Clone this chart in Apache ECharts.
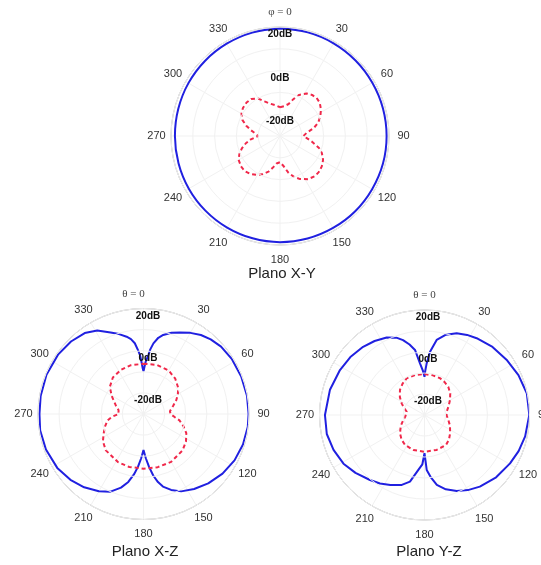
<!DOCTYPE html>
<html>
<head>
<meta charset="utf-8">
<script src="https://cdn.jsdelivr.net/npm/echarts@6/dist/echarts.min.js"></script>
<style>
  html, body { margin: 0; padding: 0; background: #fff; }
  #chart { width: 541px; height: 565px; }
</style>
</head>
<body>
<div id="chart"></div>
<script>
// Radiation patterns in dB, angles in degrees measured clockwise from the top.

// Plano X-Y (φ sweep)
const xyBlueAngles = [0, 15, 30, 45, 60, 75, 90, 105, 120, 135, 150, 165, 180, 195, 210, 225, 240, 255, 270, 285, 300, 315, 330, 345, 360];
const xyBlueDb     = [19.3, 19.2, 19.1, 19.0, 18.9, 18.9, 18.9, 18.9, 18.8, 18.8, 18.7, 18.7, 18.7, 18.6, 18.5, 18.4, 18.3, 18.2, 18.2, 18.3, 18.5, 18.7, 18.9, 19.1, 19.3];
const xyRedAngles = [0, 8, 15, 20, 25, 32, 38, 44, 50, 57, 64, 71, 77, 83, 90,
  95, 100, 107, 112, 119, 126, 133, 139, 147, 155, 161, 167, 173, 180,
  187, 193, 198, 205, 211, 218, 225, 232, 240, 246, 252, 258, 263, 270,
  276, 281, 287, 293, 300, 307, 315, 322, 330, 336, 343, 352, 360];
const xyRedDb = [-16.8, -16.2, -14.8, -12, -9.2, -7, -6.1, -5.8, -6.2, -7.6, -9.4, -11.5, -14.2, -17.6, -19.3,
  -17.5, -15.2, -11.3, -9.3, -7.4, -6.3, -5.7, -5.6, -6.4, -8.2, -10.2, -12.6, -16, -18,
  -17.3, -15, -12.8, -10.6, -9.2, -7.9, -7.2, -7.3, -8.1, -9.6, -11.6, -14, -16.3, -20,
  -18.6, -16.5, -13.8, -11.3, -9.6, -8.7, -8.3, -8.5, -10.2, -12.6, -14.5, -15.8, -16.8];

// Plano X-Z (θ sweep)
const xzBlueAngles = [0, 1, 2.5, 4.7, 6, 8, 11, 14, 19, 24, 30, 36, 42, 49, 58, 69, 80, 90, 97, 107, 117, 127, 137, 146, 154, 160, 165, 168, 171, 174, 177, 180,
  183, 186, 189, 192.6, 197, 203, 210, 219, 228, 238, 250, 261, 270, 280, 292, 305, 315, 324, 331, 338, 343, 347.7, 350.5, 353, 355, 356.6, 357.5, 359, 360];
const xzBlueDb = [-9.8, -8, -5, -2, 0.8, 3.8, 6.8, 8.6, 10.7, 12.3, 14.4, 16.3, 17.6, 18.7, 19.3, 19.6, 19.8, 19.8, 19.8, 19.3, 18.4, 16.9, 15, 12.9, 10.8, 8.3, 5.6, 3, -0.5, -4.8, -9, -12.9,
  -9, -4.8, -1, 3, 6.5, 10, 12.3, 14.7, 16.6, 18.2, 19.2, 19.6, 19.3, 19.5, 19.6, 19.3, 18.6, 17.4, 15.2, 11.7, 9.6, 7.5, 6, 3.8, 0.5, -2, -4.5, -8.3, -9.8];
const xzRedAngles = [0, 15, 30, 42, 53, 60, 67, 75, 84, 90, 96, 100, 107, 114, 123, 133, 150, 165, 180,
  195, 208, 226, 236, 244, 252, 260, 265, 270, 279, 286, 293, 300, 309, 320, 333, 345, 360];
const xzRedDb = [-6.2, -5.9, -6.2, -7.5, -9.4, -11.2, -13.1, -15.5, -17.4, -17.2, -15, -12.7, -10.2, -7.8, -6, -4.7, -3.8, -3.9, -4.1,
  -4.0, -4.2, -5.2, -6.8, -9, -10.8, -12.7, -15, -18.2, -18, -16.5, -14.9, -12.5, -9.5, -7.4, -6.5, -6.1, -6.2];

// Plano Y-Z (θ sweep)
const yzBlueAngles = [0, 1, 2.4, 5, 9.2, 15, 21.5, 28, 34.2, 45, 56, 67, 78, 90, 102, 111, 119.5, 131, 142.3, 150, 157, 164, 170, 174, 177.7, 180,
  182.5, 186.4, 192.3, 198, 206, 213, 220, 230, 239, 249, 259, 270, 285, 298, 308, 318, 326, 334, 340, 344, 348, 351.7, 355, 358, 360];
const yzBlueDb = [-11.8, -9, -5.4, 0.2, 6.2, 9.6, 11.8, 13.2, 14.2, 15.8, 17.1, 18.6, 19.8, 19.9, 19, 18, 16.8, 15.2, 13.1, 11.3, 9.3, 6.8, 3.8, 0, -3.8, -11.8,
  -6.5, -3.7, 2.5, 5, 7.1, 8.9, 10.4, 12.9, 15, 16.4, 17.4, 17.4, 16.6, 15.6, 14.8, 13.7, 12.5, 11.1, 9.2, 7.1, 4.3, 1.3, -5.3, -9, -11.8];
const yzRedAngles = [0, 12, 23, 31, 40, 50, 59.5, 70, 81.5, 90, 101.9, 113, 125.7, 135, 144.4, 160.8, 180,
  197.7, 213, 223, 233, 245, 256.7, 265, 280.5, 290, 297, 306, 315.6, 325, 334, 347, 360];
const yzRedDb = [-10.5, -10.7, -11, -11.6, -12.4, -14, -15.9, -17.8, -19.3, -19.5, -18.4, -16.8, -15, -13.5, -12.4, -12.4, -12.5,
  -12.5, -13, -14, -15.4, -17.5, -19.6, -20.8, -21.4, -19.5, -17.8, -15.5, -13.3, -11.8, -10.6, -10.4, -10.5];

// Angle tick labels and the name of the zero direction in each plane
const angleTicks = [0, 30, 60, 90, 120, 150, 180, 210, 240, 270, 300, 330];
const zeroNames = ['φ = 0', 'θ = 0', 'θ = 0'];
const dbTicks = [-20, 0, 20];
const planeTitles = ['Plano X-Y', 'Plano X-Z', 'Plano Y-Z'];

const BLUE = '#2020e0';
const RED = '#f0284a';
const DB_MIN = -30;
const DB_MAX = 20;

function pairs(angles, db) {
  return angles.map((a, i) => [db[i], a]);
}

const polars = [
  { center: [280, 136], radius: 109 },
  { center: [143.5, 414], radius: 105.5 },
  { center: [424.5, 415], radius: 105 }
];
// horizontal nudge of the dB ring labels and of the zero-direction label in each plane
const dbLabelShift = [0, 9, 7];
const zeroLabelShift = [0, -10, 0];

const angleAxes = polars.map((p, i) => ({
  polarIndex: i,
  type: 'value',
  min: 0,
  max: 360,
  interval: 30,
  startAngle: 90,
  clockwise: true,
  axisLine: { lineStyle: { color: '#a9a9a9', width: 1 } },
  axisTick: { show: false },
  splitLine: { lineStyle: { color: '#f1f1f1', width: 1 } },
  axisLabel: { show: false }
}));

const radiusAxes = polars.map((p, i) => ({
  polarIndex: i,
  type: 'value',
  min: DB_MIN,
  max: DB_MAX,
  interval: 10,
  z: 5,
  axisLine: { show: false },
  axisTick: { show: false },
  splitLine: { lineStyle: { color: '#f1f1f1', width: 1 } },
  axisLabel: {
    margin: 0,
    align: 'center',
    verticalAlign: 'top',
    lineHeight: 15,
    padding: [0, 0, 0, dbLabelShift[i]],
    fontFamily: 'Liberation Sans, Arial, sans-serif',
    fontWeight: 'bold',
    fontSize: 10,
    color: '#111',
    formatter: v => (dbTicks.indexOf(v) >= 0 ? v + 'dB' : '')
  }
}));

function lineSeries(polarIndex, data, color, dashed, smooth) {
  return {
    type: 'line',
    coordinateSystem: 'polar',
    polarIndex: polarIndex,
    data: data,
    showSymbol: false,
    symbol: 'none',
    smooth: smooth,
    z: 3,
    lineStyle: dashed
      ? { color: color, width: 2, type: [4, 3] }
      : { color: color, width: 2 },
    animation: false
  };
}

const series = [
  lineSeries(0, pairs(xyBlueAngles, xyBlueDb), BLUE, false, 0.4),
  lineSeries(0, pairs(xyRedAngles, xyRedDb), RED, true, false),
  lineSeries(1, pairs(xzBlueAngles, xzBlueDb), BLUE, false, false),
  lineSeries(1, pairs(xzRedAngles, xzRedDb), RED, true, false),
  lineSeries(2, pairs(yzBlueAngles, yzBlueDb), BLUE, false, false),
  lineSeries(2, pairs(yzRedAngles, yzRedDb), RED, true, false)
];

const titlePos = [[282, 266], [145, 544], [429, 544]];
const titles = planeTitles.map((t, i) => ({
  text: t,
  left: titlePos[i][0],
  top: titlePos[i][1],
  textAlign: 'center',
  padding: 0,
  textStyle: { fontFamily: 'Liberation Sans, Arial, sans-serif', fontSize: 15, fontWeight: 'normal', color: '#222' }
}));

const chart = echarts.init(document.getElementById('chart'), null, { renderer: 'canvas' });
chart.setOption({
  backgroundColor: '#ffffff',
  animation: false,
  title: titles,
  polar: polars,
  angleAxis: angleAxes,
  radiusAxis: radiusAxes,
  series: series
});

// Angle labels sit centred on a ring a fixed gap outside each plot's rim.
const LABEL_GAP = 14.5;
const angleLabels = [];
polars.forEach((p, i) => {
  const finder = { seriesIndex: i * 2 };
  const c = chart.convertToPixel(finder, [DB_MIN, 0]);
  angleTicks.forEach(a => {
    const e = chart.convertToPixel(finder, [DB_MAX, a]);
    const dx = e[0] - c[0], dy = e[1] - c[1];
    const len = Math.sqrt(dx * dx + dy * dy);
    const k = (len + LABEL_GAP) / len;
    const isZero = a === 0;
    angleLabels.push({
      type: 'text',
      x: c[0] + dx * k + (isZero ? zeroLabelShift[i] : 0),
      y: c[1] + dy * k,
      silent: true,
      style: {
        text: isZero ? zeroNames[i] : String(a),
        align: 'center',
        verticalAlign: 'middle',
        fontFamily: isZero ? 'Liberation Serif, Times New Roman, serif' : 'Liberation Sans, Arial, sans-serif',
        fontSize: 11,
        fill: isZero ? '#444' : '#333'
      }
    });
  });
});
chart.setOption({ graphic: angleLabels });
</script>
</body>
</html>
